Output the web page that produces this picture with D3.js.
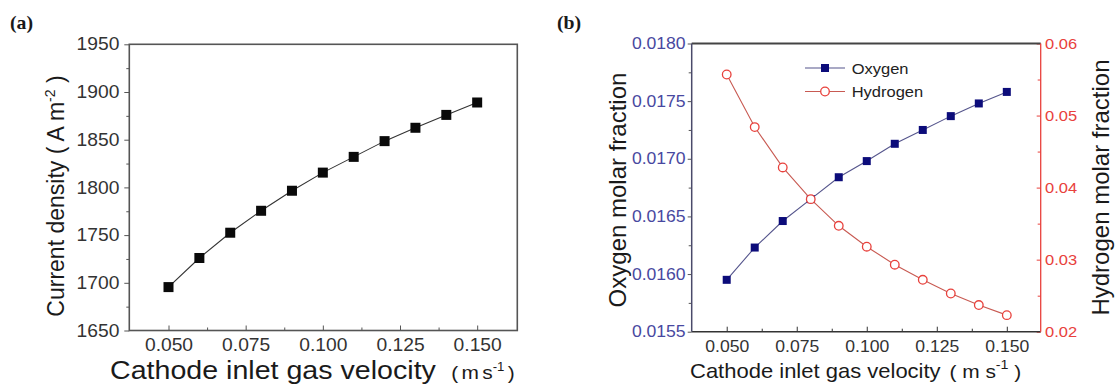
<!DOCTYPE html>
<html><head><meta charset="utf-8">
<script src="https://cdn.jsdelivr.net/npm/d3@7"></script>
<style>
body{margin:0;background:#fff}
text{font-family:Arial,"Liberation Sans",sans-serif}
</style>
</head><body>
<svg id="chart" width="1116" height="389"></svg>
<script>
// ---- data ----
const velocity = [0.05, 0.06, 0.07, 0.08, 0.09, 0.10, 0.11, 0.12, 0.13, 0.14, 0.15];
const currentDensity = [1695.5, 1726, 1752.5, 1775.5, 1796.5, 1815.5, 1832, 1848.5, 1862.5, 1876, 1889];
const oxygenFraction = [0.01595, 0.01623, 0.01646, 0.01665, 0.01684, 0.01698, 0.01713, 0.01725, 0.01737, 0.01748, 0.01758];
const hydrogenFraction = [0.0557, 0.0484, 0.0428, 0.0384, 0.0347, 0.0318, 0.0293, 0.0272, 0.0253, 0.0237, 0.0223];
const seriesNames = ["Oxygen", "Hydrogen"];
const xTicks = [0.050, 0.075, 0.100, 0.125, 0.150];
const xMinorTicks = [0.0625, 0.0875, 0.1125, 0.1375];
const densityTicks = [1650, 1700, 1750, 1800, 1850, 1900, 1950];
const densityMinorTicks = [1675, 1725, 1775, 1825, 1875, 1925];
const oxygenTicks = [0.0155, 0.0160, 0.0165, 0.0170, 0.0175, 0.0180];
const oxygenMinorTicks = [0.01575, 0.01625, 0.01675, 0.01725, 0.01775];
const hydrogenTicks = [0.02, 0.03, 0.04, 0.05, 0.06];
const hydrogenMinorTicks = [0.025, 0.035, 0.045, 0.055];

const SX = 1.1; // horizontal stretch of the scanned text
const svg = d3.select("#chart");

function stretchText(sel){ sel.selectAll("text").attr("transform", `scale(${SX},1)`); }

function label(x, y, txt, size, opts = {}){
  const t = svg.append("text")
    .attr("transform", opts.rotate ? `translate(${x},${y}) rotate(-90)` : `translate(${x},${y}) scale(${SX},1)`)
    .attr("font-size", size)
    .attr("text-anchor", opts.anchor || "start")
    .attr("fill", opts.fill || "#1a1a1a");
  if (opts.family) t.style("font-family", opts.family);
  if (opts.weight) t.style("font-weight", opts.weight);
  t.text(txt);
  return t;
}

// ================= Panel (a) =================
const A = {L:129.3, R:517.3, T:44.3, B:330.5};
const xA = d3.scaleLinear().domain([0.0373, 0.163]).range([A.L, A.R]);
const yA = d3.scaleLinear().domain([1650, 1950]).range([A.B, A.T]);

const gAx = svg.append("g").attr("transform", `translate(0,${A.B})`)
  .call(d3.axisBottom(xA).tickValues(xTicks).tickFormat(d3.format(".3f")).tickSizeInner(-5).tickSizeOuter(0).tickPadding(8));
svg.append("g").attr("transform", `translate(0,${A.B})`)
  .call(d3.axisBottom(xA).tickValues(xMinorTicks).tickFormat("").tickSizeInner(-3).tickSizeOuter(0));
const gAy = svg.append("g").attr("transform", `translate(${A.L},0)`)
  .call(d3.axisLeft(yA).tickValues(densityTicks).tickFormat(d3.format("d")).tickSizeInner(5).tickSizeOuter(0).tickPadding(4));
svg.append("g").attr("transform", `translate(${A.L},0)`)
  .call(d3.axisLeft(yA).tickValues(densityMinorTicks).tickFormat("").tickSizeInner(3).tickSizeOuter(0));
[gAx, gAy].forEach(g => { g.selectAll("text").attr("font-size", 17.5).attr("fill", "#333").attr("font-family", "Arial, 'Liberation Sans', sans-serif"); stretchText(g); });
svg.selectAll(".domain").remove();
svg.selectAll(".tick line").attr("stroke", "#555");

svg.append("rect").attr("x", A.L).attr("y", A.T).attr("width", A.R - A.L).attr("height", A.B - A.T)
  .attr("fill", "none").attr("stroke", "#555").attr("stroke-width", 1.6);

const lineA = d3.line().x((d, i) => xA(velocity[i])).y(d => yA(d));
svg.append("path").datum(currentDensity).attr("d", lineA).attr("fill", "none").attr("stroke", "#333").attr("stroke-width", 1.1);
svg.append("g").selectAll("rect").data(currentDensity).join("rect")
  .attr("x", (d, i) => xA(velocity[i]) - 5).attr("y", d => yA(d) - 5)
  .attr("width", 10).attr("height", 10).attr("fill", "#0a0a0a");

// titles (a)
const tA = label(110, 379, "Cathode inlet gas velocity", 26);
tA.append("tspan").attr("dx", 14).attr("font-size", 19).text("(");
tA.append("tspan").attr("dx", 3).attr("font-size", 19).text("m");
tA.append("tspan").attr("dx", 3).attr("font-size", 19).text("s");
tA.append("tspan").attr("font-size", 12).attr("dy", -8).text("-1");
tA.append("tspan").attr("dx", 3).attr("font-size", 19).attr("dy", 8).text(")");

const yTA = label(64, 196, "Current density ", 23, {rotate:true, anchor:"middle"});
yTA.append("tspan").text("( A m");
yTA.append("tspan").attr("font-size", 14).attr("dy", -9).text("-2");
yTA.append("tspan").attr("dy", 9).text(" )");

label(10, 29, "(a)", 18, {family:"'Liberation Serif', 'DejaVu Serif', serif", weight:"bold"});

// ================= Panel (b) =================
const B = {L:691.7, R:1040.7, T:43.5, B:331.7};
const xB = d3.scaleLinear().domain([0.0375, 0.1621]).range([B.L, B.R]);
const yO = d3.scaleLinear().domain([0.0155, 0.018]).range([B.B, B.T]);
const yH = d3.scaleLinear().domain([0.02, 0.06]).range([B.B, B.T]);
const blueText = "#4848a0", redText = "#e8413c";

const gBx = svg.append("g").attr("transform", `translate(0,${B.B})`)
  .call(d3.axisBottom(xB).tickValues(xTicks).tickFormat(d3.format(".3f")).tickSizeInner(-5).tickSizeOuter(0).tickPadding(9));
const gBxm = svg.append("g").attr("transform", `translate(0,${B.B})`)
  .call(d3.axisBottom(xB).tickValues(xMinorTicks).tickFormat("").tickSizeInner(-3).tickSizeOuter(0));
const gBl = svg.append("g").attr("transform", `translate(${B.L},0)`)
  .call(d3.axisLeft(yO).tickValues(oxygenTicks).tickFormat(d3.format(".4f")).tickSizeInner(4).tickSizeOuter(0).tickPadding(1.5));
const gBlm = svg.append("g").attr("transform", `translate(${B.L},0)`)
  .call(d3.axisLeft(yO).tickValues(oxygenMinorTicks).tickFormat("").tickSizeInner(3).tickSizeOuter(0));
const gBr = svg.append("g").attr("transform", `translate(${B.R},0)`)
  .call(d3.axisRight(yH).tickValues(hydrogenTicks).tickFormat(d3.format(".2f")).tickSizeInner(-4).tickSizeOuter(0).tickPadding(4));
const gBrm = svg.append("g").attr("transform", `translate(${B.R},0)`)
  .call(d3.axisRight(yH).tickValues(hydrogenMinorTicks).tickFormat("").tickSizeInner(-3).tickSizeOuter(0));
[gBx, gBl, gBr].forEach(g => { g.selectAll("text").attr("font-size", 16).attr("font-family", "Arial, 'Liberation Sans', sans-serif"); stretchText(g); });
gBx.selectAll("text").attr("fill", "#333");
gBl.selectAll("text").attr("fill", blueText);
gBr.selectAll("text").attr("fill", redText).attr("font-size", 15);
svg.selectAll(".domain").remove();
[gBx, gBxm].forEach(g => g.selectAll(".tick line").attr("stroke", "#333"));
[gBl, gBlm].forEach(g => g.selectAll(".tick line").attr("stroke", "#555"));
[gBr, gBrm].forEach(g => g.selectAll(".tick line").attr("stroke", redText));

// frame (b)
svg.append("line").attr("x1", B.L).attr("x2", B.R).attr("y1", B.T).attr("y2", B.T).attr("stroke", "#444").attr("stroke-width", 2.2);
svg.append("line").attr("x1", B.L).attr("x2", B.R).attr("y1", B.B).attr("y2", B.B).attr("stroke", "#333").attr("stroke-width", 1.6);
svg.append("line").attr("x1", B.L).attr("x2", B.L).attr("y1", B.T).attr("y2", B.B).attr("stroke", "#4a4a6a").attr("stroke-width", 1.5);
svg.append("line").attr("x1", B.R).attr("x2", B.R).attr("y1", B.T).attr("y2", B.B).attr("stroke", redText).attr("stroke-width", 1.3);

const oxyLineColor = "#55558c", oxyMarker = "#0c0c7a", hydLineColor = "#c85a52", hydMarker = "#e8413c";
const lineO = d3.line().x((d, i) => xB(velocity[i])).y(d => yO(d));
const lineH = d3.line().x((d, i) => xB(velocity[i])).y(d => yH(d));
svg.append("path").datum(oxygenFraction).attr("d", lineO).attr("fill", "none").attr("stroke", oxyLineColor).attr("stroke-width", 1.1);
svg.append("g").selectAll("rect").data(oxygenFraction).join("rect")
  .attr("x", (d, i) => xB(velocity[i]) - 4).attr("y", d => yO(d) - 4)
  .attr("width", 8).attr("height", 8).attr("fill", oxyMarker);
svg.append("path").datum(hydrogenFraction).attr("d", lineH).attr("fill", "none").attr("stroke", hydLineColor).attr("stroke-width", 1.1);
svg.append("g").selectAll("circle").data(hydrogenFraction).join("circle")
  .attr("cx", (d, i) => xB(velocity[i])).attr("cy", d => yH(d)).attr("r", 4.3)
  .attr("fill", "#fff").attr("stroke", hydMarker).attr("stroke-width", 1.3);

// legend
const legY = [68, 91.5];
seriesNames.forEach((name, i) => {
  const col = i === 0 ? oxyLineColor : hydLineColor;
  svg.append("line").attr("x1", 805).attr("x2", 845).attr("y1", legY[i]).attr("y2", legY[i]).attr("stroke", col).attr("stroke-width", 1.1);
  if (i === 0) svg.append("rect").attr("x", 825 - 4).attr("y", legY[i] - 4).attr("width", 8).attr("height", 8).attr("fill", oxyMarker);
  else svg.append("circle").attr("cx", 825).attr("cy", legY[i]).attr("r", 4.3).attr("fill", "#fff").attr("stroke", hydMarker).attr("stroke-width", 1.3);
  label(851.7, legY[i] + 5.5, name, 15, {fill:"#222"});
});

// titles (b)
const tB = label(690, 378, "Cathode inlet gas velocity", 20);
tB.append("tspan").attr("dx", 8).attr("font-size", 19).text("( m s");
tB.append("tspan").attr("font-size", 13).attr("dy", -9).text("-1");
tB.append("tspan").attr("font-size", 19).attr("dy", 9).text(" )");

label(626, 190, "Oxygen molar fraction", 24, {rotate:true, anchor:"middle"});
label(1109.3, 187.5, "Hydrogen molar fraction", 24, {rotate:true, anchor:"middle"});
label(557, 29, "(b)", 18, {family:"'Liberation Serif', 'DejaVu Serif', serif", weight:"bold"});
</script>
</body></html>
